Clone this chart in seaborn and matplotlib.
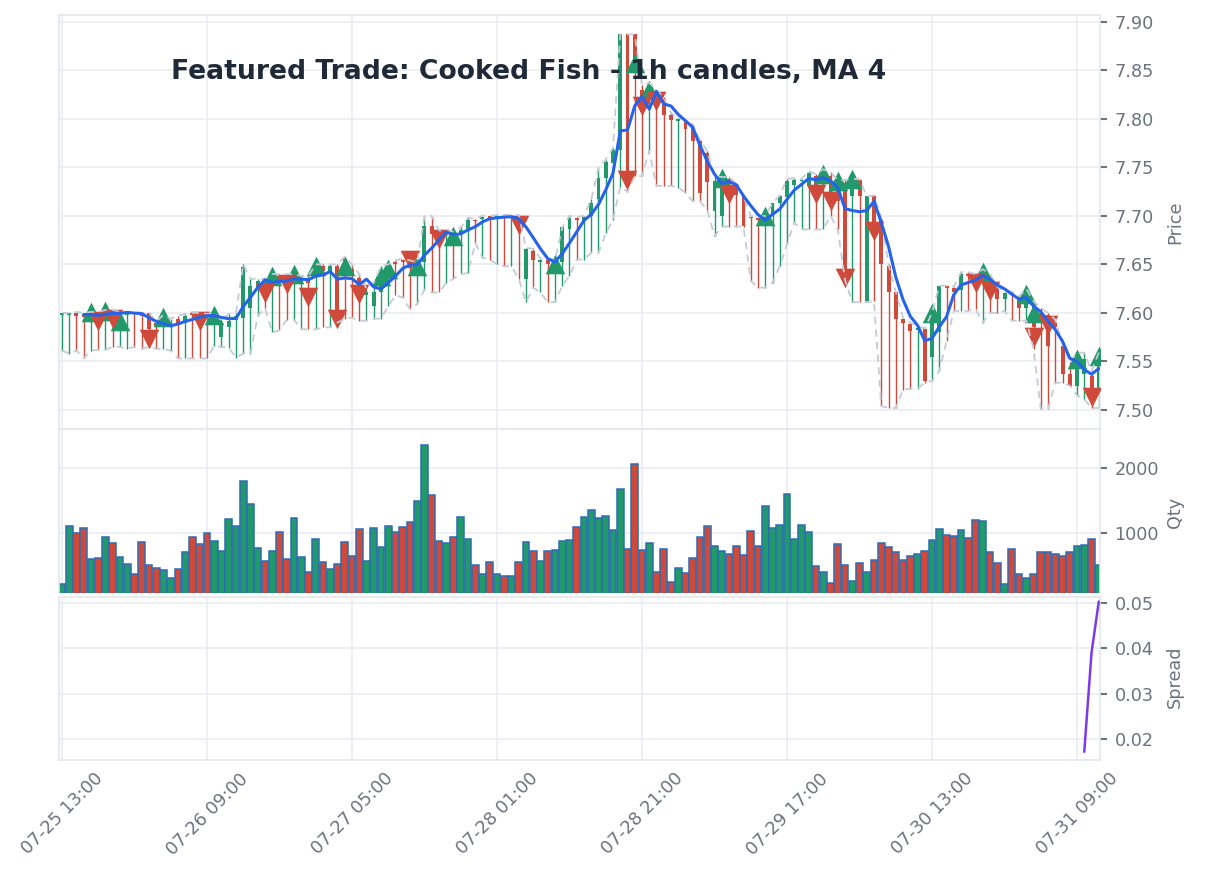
import numpy as np
import pandas as pd
import seaborn as sns
import matplotlib.pyplot as plt
import matplotlib.dates as mdates
from matplotlib.ticker import FixedLocator, FormatStrFormatter

# === Candle data (1h, starting 07-25 13:00) ===
start = "2025-07-25 13:00"

opens = [
    7.598, 7.598, 7.600, 7.599, 7.596, 7.600, 7.597, 7.602, 7.597, 7.598,
    7.601, 7.600, 7.600, 7.590, 7.585, 7.585, 7.594, 7.590, 7.600, 7.600,
    7.598, 7.593, 7.575, 7.585, 7.593, 7.595, 7.605, 7.624, 7.633, 7.630,
    7.638, 7.638, 7.632, 7.632, 7.636, 7.640, 7.648, 7.641, 7.648, 7.656,
    7.645, 7.636, 7.618, 7.607, 7.621, 7.638, 7.652, 7.654, 7.652, 7.645,
    7.652, 7.690, 7.683, 7.680, 7.682, 7.681, 7.686, 7.696, 7.697, 7.700,
    7.698, 7.700, 7.698, 7.700, 7.635, 7.664, 7.652, 7.654, 7.648, 7.652,
    7.686, 7.698, 7.696, 7.700, 7.717, 7.739, 7.754, 7.768, 7.887, 7.887,
    7.830, 7.830, 7.830, 7.820, 7.804, 7.798, 7.797, 7.792, 7.777, 7.765,
    7.705, 7.700, 7.738, 7.731, 7.720, 7.699, 7.698, 7.696, 7.700, 7.713,
    7.719, 7.732, 7.736, 7.731, 7.741, 7.735, 7.741, 7.735, 7.734, 7.720,
    7.737, 7.612, 7.720, 7.696, 7.648, 7.621, 7.594, 7.589, 7.582, 7.583,
    7.555, 7.580, 7.627, 7.626, 7.624, 7.640, 7.638, 7.636, 7.638, 7.625,
    7.614, 7.620, 7.615, 7.605, 7.610, 7.600, 7.598, 7.590, 7.566, 7.537,
    7.525, 7.537, 7.535, 7.521]

highs = [
    7.600, 7.600, 7.601, 7.600, 7.601, 7.601, 7.603, 7.603, 7.601, 7.601,
    7.601, 7.600, 7.600, 7.591, 7.598, 7.594, 7.597, 7.599, 7.600, 7.600,
    7.599, 7.600, 7.592, 7.599, 7.600, 7.650, 7.635, 7.635, 7.635, 7.640,
    7.640, 7.640, 7.640, 7.638, 7.638, 7.650, 7.650, 7.650, 7.650, 7.658,
    7.650, 7.640, 7.625, 7.631, 7.648, 7.650, 7.654, 7.656, 7.654, 7.652,
    7.700, 7.700, 7.685, 7.684, 7.684, 7.688, 7.698, 7.697, 7.700, 7.700,
    7.701, 7.701, 7.701, 7.701, 7.667, 7.666, 7.656, 7.656, 7.654, 7.688,
    7.700, 7.699, 7.700, 7.717, 7.749, 7.758, 7.770, 7.887, 7.887, 7.887,
    7.835, 7.837, 7.830, 7.822, 7.806, 7.801, 7.799, 7.794, 7.778, 7.767,
    7.741, 7.740, 7.740, 7.733, 7.720, 7.700, 7.699, 7.700, 7.713, 7.721,
    7.738, 7.739, 7.738, 7.746, 7.743, 7.748, 7.745, 7.737, 7.737, 7.738,
    7.738, 7.720, 7.721, 7.698, 7.650, 7.622, 7.595, 7.590, 7.586, 7.584,
    7.600, 7.628, 7.628, 7.627, 7.642, 7.642, 7.640, 7.645, 7.640, 7.627,
    7.622, 7.622, 7.617, 7.625, 7.612, 7.605, 7.600, 7.593, 7.568, 7.549,
    7.559, 7.559, 7.540, 7.559]

lows = [
    7.561, 7.558, 7.561, 7.553, 7.561, 7.562, 7.562, 7.565, 7.565, 7.563,
    7.565, 7.563, 7.565, 7.563, 7.563, 7.561, 7.553, 7.553, 7.553, 7.553,
    7.553, 7.566, 7.565, 7.564, 7.554, 7.558, 7.558, 7.597, 7.605, 7.580,
    7.582, 7.593, 7.593, 7.583, 7.583, 7.583, 7.585, 7.585, 7.590, 7.594,
    7.595, 7.592, 7.592, 7.594, 7.594, 7.607, 7.618, 7.616, 7.604, 7.609,
    7.624, 7.621, 7.621, 7.631, 7.635, 7.640, 7.641, 7.672, 7.657, 7.655,
    7.650, 7.648, 7.648, 7.635, 7.611, 7.626, 7.621, 7.611, 7.611, 7.628,
    7.638, 7.655, 7.655, 7.662, 7.662, 7.682, 7.696, 7.730, 7.725, 7.741,
    7.741, 7.767, 7.731, 7.731, 7.731, 7.729, 7.724, 7.715, 7.715, 7.706,
    7.679, 7.689, 7.689, 7.689, 7.689, 7.633, 7.626, 7.626, 7.631, 7.648,
    7.671, 7.693, 7.686, 7.686, 7.686, 7.686, 7.700, 7.686, 7.634, 7.611,
    7.611, 7.611, 7.612, 7.504, 7.502, 7.502, 7.521, 7.522, 7.522, 7.528,
    7.530, 7.540, 7.571, 7.602, 7.602, 7.602, 7.604, 7.590, 7.600, 7.600,
    7.602, 7.592, 7.592, 7.592, 7.563, 7.501, 7.501, 7.528, 7.528, 7.525,
    7.515, 7.511, 7.502, 7.502]

closes = [
    7.600, 7.600, 7.597, 7.596, 7.600, 7.597, 7.602, 7.599, 7.600, 7.601,
    7.599, 7.597, 7.583, 7.586, 7.590, 7.588, 7.590, 7.597, 7.598, 7.597,
    7.596, 7.598, 7.590, 7.592, 7.597, 7.647, 7.628, 7.633, 7.628, 7.636,
    7.633, 7.634, 7.637, 7.635, 7.631, 7.648, 7.643, 7.648, 7.600, 7.653,
    7.640, 7.624, 7.622, 7.621, 7.631, 7.650, 7.650, 7.652, 7.646, 7.650,
    7.690, 7.681, 7.680, 7.682, 7.679, 7.685, 7.696, 7.695, 7.699, 7.698,
    7.700, 7.698, 7.700, 7.690, 7.666, 7.654, 7.654, 7.650, 7.652, 7.688,
    7.698, 7.696, 7.699, 7.713, 7.739, 7.756, 7.768, 7.887, 7.743, 7.855,
    7.807, 7.835, 7.815, 7.804, 7.799, 7.800, 7.789, 7.777, 7.724, 7.735,
    7.736, 7.738, 7.733, 7.721, 7.690, 7.698, 7.696, 7.699, 7.713, 7.720,
    7.736, 7.737, 7.737, 7.744, 7.731, 7.745, 7.725, 7.715, 7.645, 7.737,
    7.720, 7.720, 7.683, 7.650, 7.621, 7.594, 7.590, 7.581, 7.584, 7.530,
    7.600, 7.628, 7.626, 7.621, 7.640, 7.638, 7.636, 7.640, 7.625, 7.614,
    7.620, 7.618, 7.605, 7.620, 7.585, 7.595, 7.566, 7.585, 7.537, 7.525,
    7.552, 7.552, 7.518, 7.548]

qty = [
    211, 1103, 1000, 1067, 595, 610, 929, 836, 626, 513,
    360, 852, 498, 452, 421, 303, 436, 698, 929, 821,
    990, 872, 718, 1205, 1103, 1795, 1436, 760, 560, 718,
    1006, 595, 1226, 626, 390, 903, 544, 441, 513, 852,
    636, 1052, 560, 1067, 780, 1103, 1006, 1083, 1160, 1487,
    2359, 1590, 867, 836, 929, 1241, 903, 498, 360, 544,
    360, 329, 329, 544, 852, 713, 564, 713, 733, 872,
    887, 1083, 1241, 1344, 1226, 1252, 1041, 1682, 749, 2067,
    733, 836, 390, 749, 237, 457, 380, 610, 929, 1098,
    795, 718, 672, 790, 657, 1030, 795, 1410, 1072, 1118,
    1595, 903, 1118, 1010, 488, 395, 221, 821, 503, 252,
    534, 395, 580, 836, 780, 703, 580, 641, 672, 718,
    887, 1057, 964, 949, 1041, 918, 1195, 1180, 703, 534,
    211, 749, 360, 303, 360, 703, 703, 672, 641, 703,
    795, 810, 903, 503]

# === Trades (candle number, price) ===
buy_bar = [5, 7, 9, 15, 22, 30, 33, 36, 40, 45, 46, 50, 55, 69, 80, 82, 92,
           98, 106, 108, 110, 121, 128, 134, 135, 141, 144]
buy_px = [7.601, 7.602, 7.592, 7.596, 7.598, 7.638, 7.640, 7.648, 7.648, 7.638,
          7.645, 7.648, 7.679, 7.650, 7.858, 7.830, 7.739, 7.700, 7.743, 7.736,
          7.738, 7.600, 7.642, 7.619, 7.600, 7.552, 7.556]
sell_bar = [6, 8, 13, 20, 29, 32, 35, 39, 42, 49, 53, 64, 79, 81, 83, 93, 105,
            107, 109, 113, 127, 129, 135, 137, 143]
sell_px = [7.592, 7.594, 7.573, 7.592, 7.620, 7.630, 7.616, 7.594, 7.619, 7.654,
           7.676, 7.691, 7.737, 7.813, 7.818, 7.722, 7.722, 7.715, 7.636, 7.684,
           7.631, 7.623, 7.575, 7.587, 7.513]

# === Spread (only the last candles have it) ===
spread_bar = [142, 143, 144]
spread_vals = [0.0172, 0.0390, 0.0503]

# === Prepare ===
df = pd.DataFrame({"open": opens, "high": highs, "low": lows, "close": closes, "qty": qty})
df["time"] = pd.date_range(start, periods=len(df), freq="h")
df["ma"] = df["close"].rolling(4).mean()
df["up"] = df["close"] >= df["open"]

GREEN = "#22996b"
RED = "#cf4a3b"
GRID = "#e9ebf1"
TICK = "#6b7280"
cols = np.where(df["up"], GREEN, RED)

t = df["time"]
hour = 1 / 24

sns.set_theme(style="white")
plt.rcParams["font.family"] = ["DejaVu Sans"]

fig = plt.figure(figsize=(12.05, 8.84), dpi=100)
L, W = 59 / 1205, 1041 / 1205
ax_p = fig.add_axes([L, 1 - 429.3 / 884, W, 414.3 / 884])
ax_v = fig.add_axes([L, 1 - 593 / 884, W, 163.7 / 884], sharex=ax_p)
ax_s = fig.add_axes([L, 1 - 760 / 884, W, 163 / 884], sharex=ax_p)

# === Price panel ===
body_lo = np.minimum(df["open"], df["close"])
body_h = np.maximum((df["close"] - df["open"]).abs(), 0.0012)
ax_p.vlines(t, df["low"], df["high"], colors=cols, lw=1.0, zorder=2)
ax_p.bar(t, body_h, bottom=body_lo, width=0.55 * hour, color=cols, linewidth=0, zorder=2.1)

bt = df["time"].iloc[[b - 1 for b in buy_bar]]
st = df["time"].iloc[[b - 1 for b in sell_bar]]
sns.scatterplot(x=bt, y=buy_px, ax=ax_p, marker="^", s=200, color=GREEN, linewidth=0, zorder=3)
sns.scatterplot(x=st, y=sell_px, ax=ax_p, marker="v", s=200, color=RED, linewidth=0, zorder=3)

for col in ["high", "low"]:
    sns.lineplot(x=t, y=df[col], ax=ax_p, color="#c4cbd6", lw=1.3,
                 linestyle=(0, (4, 3)), estimator=None, zorder=4)
sns.lineplot(x=t, y=df["ma"], ax=ax_p, color="#2563eb", lw=2.2, estimator=None, zorder=5)
ax_p.set_ylim(7.480, 7.907)
ax_p.yaxis.set_major_locator(FixedLocator([7.50, 7.55, 7.60, 7.65, 7.70, 7.75, 7.80, 7.85, 7.90]))
ax_p.yaxis.set_major_formatter(FormatStrFormatter("%.2f"))

# === Qty panel ===
ax_v.bar(t, df["qty"], width=0.92 * hour, color=cols, edgecolor="#2d6cb5", linewidth=1.1, zorder=2)
ax_v.set_ylim(72, 2595)
ax_v.yaxis.set_major_locator(FixedLocator([1000, 2000]))
ax_v.spines["bottom"].set_visible(False)

# === Spread panel ===
sp_t = df["time"].iloc[[b - 1 for b in spread_bar]]
sns.lineplot(x=sp_t, y=spread_vals, ax=ax_s, color="#7c3aed", lw=1.8, estimator=None, zorder=3)
ax_s.set_ylim(0.0154, 0.0513)
ax_s.yaxis.set_major_locator(FixedLocator([0.02, 0.03, 0.04, 0.05]))
ax_s.yaxis.set_major_formatter(FormatStrFormatter("%.2f"))

# === Shared styling ===
t0 = df["time"].iloc[0]
xt = [t0 + pd.Timedelta(hours=20 * k) for k in range(8)]
ax_s.set_xlim(t0 - pd.Timedelta(hours=0.41), t0 + pd.Timedelta(hours=143.17))
ax_s.xaxis.set_major_locator(FixedLocator(mdates.date2num(xt)))
ax_s.xaxis.set_major_formatter(mdates.DateFormatter("%m-%d %H:%M"))

for ax in [ax_p, ax_v, ax_s]:
    ax.set_facecolor("white")
    ax.grid(True, color=GRID, lw=1.1, zorder=0)
    ax.set_axisbelow(True)
    for sp in ax.spines.values():
        sp.set_color("#e3e6ec")
        sp.set_linewidth(1.2)
    ax.yaxis.tick_right()
    ax.tick_params(axis="y", length=5, width=1.5, color=TICK, labelcolor=TICK,
                   labelsize=12.7, pad=5.5)
    ax.set_xlabel("")
    ax.set_ylabel("")

for ax in [ax_p, ax_v]:
    ax.tick_params(axis="x", length=0, labelbottom=False)
ax_s.tick_params(axis="x", length=4, width=1.5, color=TICK, labelcolor=TICK,
                 labelsize=12.7, pad=3)
plt.setp(ax_s.get_xticklabels(), rotation=45, ha="center")

# === Text ===
fig.text(529 / 1205, 1 - 79 / 884, "Featured Trade: Cooked Fish - 1h candles, MA 4",
         ha="center", va="baseline", fontsize=19.2, fontweight="bold", color="#1f2937")
for label, yc in [("Price", 222), ("Qty", 512), ("Spread", 677)]:
    fig.text(1175 / 1205, 1 - yc / 884, label, rotation=90, ha="center", va="center",
             fontsize=12.7, color=TICK)

fig.savefig("out.png", dpi=100, facecolor="white")
